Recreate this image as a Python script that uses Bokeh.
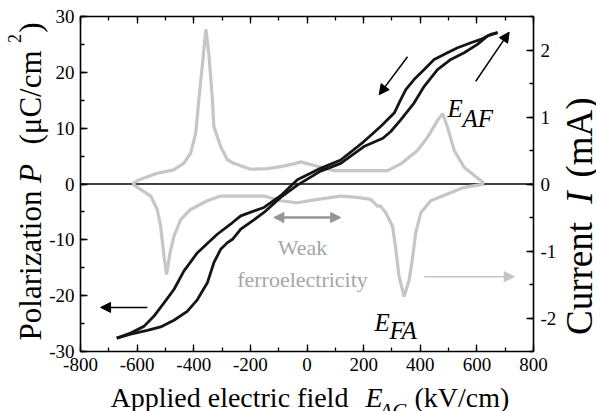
import math
from bokeh.plotting import figure
from bokeh.models import (Range1d, LinearAxis, SingleIntervalTicker, Label,
                          Arrow, NormalHead, CustomJSTickFormatter)
from bokeh.embed import file_html
from bokeh.resources import INLINE

# ---------------- data ----------------
# P-E loop, ascending field branch (E in kV/cm, P in uC/cm^2)
up_E = [-672, -623, -564, -517, -470, -423, -387, -352, -329, -305, -281, -263, -234,
        -190, -152, -93, -34, 48, 119, 201, 268, 296, 331, 378, 414, 461, 508, 555,
        602, 638, 673]
up_P = [-27.6, -26.9, -26.2, -25.6, -24.4, -22.8, -20.7, -17.7, -14.1, -11.7, -10.5,
        -9.9, -8.1, -6.5, -5.1, -2.4, -0.2, 2.3, 3.7, 6.7, 8.2, 9.4, 11.5, 14.5, 17.5,
        20.5, 22.3, 23.5, 25.0, 26.5, 27.1]
# P-E loop, descending field branch
down_E = [673, 649, 614, 579, 532, 496, 449, 414, 378, 349, 331, 308, 284, 260, 201,
          119, 48, -34, -93, -152, -234, -263, -317, -387, -435, -470, -505, -541,
          -576, -623, -672]
down_P = [27.1, 26.8, 25.9, 25.3, 24.4, 23.5, 22.3, 20.5, 18.7, 16.9, 15.1, 12.7, 11.5,
          10.3, 7.6, 4.3, 2.8, 0.75, -2.1, -4.2, -5.7, -6.9, -9.0, -12.3, -15.6, -18.9,
          -21.3, -23.7, -25.5, -26.7, -27.6]

# switching current, ascending field (I in mA)
cur_up_E = [-617, -595, -529, -471, -435, -411, -393, -382, -370, -362, -357, -346, -334,
            -329, -305, -281, -259, -199, -140, -93, -46, -22, 13, 95, 200, 284, 331,
            390, 426, 461, 479, 496, 520, 555, 590, 620, 625]
cur_up_I = [0.0, 0.06, 0.16, 0.21, 0.31, 0.46, 0.76, 1.26, 1.76, 2.11, 2.31, 1.91, 1.26,
            0.86, 0.56, 0.36, 0.31, 0.22, 0.23, 0.26, 0.30, 0.33, 0.29, 0.20, 0.20, 0.20,
            0.30, 0.50, 0.70, 0.95, 1.05, 0.85, 0.50, 0.25, 0.13, 0.03, 0.0]
# switching current, descending field
cur_down_E = [625, 614, 555, 496, 437, 402, 384, 372, 361, 343, 325, 314, 302, 278, 260,
              249, 225, 178, 119, 37, -34, -93, -152, -270, -305, -352, -411, -446,
              -470, -484, -496, -505, -517, -529, -552, -588, -617]
cur_down_I = [0.0, -0.01, -0.05, -0.15, -0.25, -0.43, -0.73, -1.13, -1.43, -1.68, -1.38,
              -0.98, -0.63, -0.43, -0.33, -0.33, -0.23, -0.20, -0.18, -0.23, -0.28,
              -0.25, -0.18, -0.18, -0.18, -0.25, -0.38, -0.53, -0.78, -1.03, -1.35,
              -1.08, -0.63, -0.38, -0.18, -0.08, 0.0]

x_limits = (-800, 800)
p_limits = (-30, 30)
i_limits = (-2.5, 2.5)

# ---------------- layout geometry (canvas pixels) ----------------
FONT = "Liberation Serif"
W, H = 596, 411
BOX_L, BOX_R, BOX_T, BOX_B = 80, 533, 16, 351   # plotting box inside the canvas

# The frame fills the whole canvas; the axis box is drawn with fixed-location axes,
# so the outer texts (axis titles) can live inside the frame without being clipped.
ex = (x_limits[1] - x_limits[0]) / (BOX_R - BOX_L)
ep = (p_limits[1] - p_limits[0]) / (BOX_B - BOX_T)
x_full = (x_limits[0] - BOX_L * ex, x_limits[1] + (W - BOX_R) * ex)
p_full = (p_limits[0] - (H - BOX_B) * ep, p_limits[1] + BOX_T * ep)
k = (i_limits[1] - i_limits[0]) / (p_limits[1] - p_limits[0])
i_full = (p_full[0] * k, p_full[1] * k)

p = figure(width=W, height=H, x_range=Range1d(*x_full), y_range=Range1d(*p_full),
           output_backend="svg", toolbar_location=None, min_border=0,
           min_border_left=0, min_border_right=0, min_border_top=0, min_border_bottom=0,
           background_fill_color="white", border_fill_color="white",
           outline_line_color=None)
p.grid.visible = False
p.extra_y_ranges = {"I": Range1d(*i_full)}

plain = CustomJSTickFormatter(code="return String(tick)")


def style_axis(ax):
    ax.axis_line_width = 1.6
    ax.axis_line_color = "black"
    ax.major_tick_in = 7
    ax.major_tick_out = 0
    ax.minor_tick_in = 4
    ax.minor_tick_out = 0
    ax.major_tick_line_width = 1.3
    ax.minor_tick_line_width = 1.3
    ax.major_label_text_font = FONT
    ax.major_label_text_font_size = "19px"
    ax.major_label_text_color = "black"
    ax.major_label_standoff = 6
    ax.axis_label = None


xax = p.xaxis[0]
xax.ticker = SingleIntervalTicker(interval=200, num_minor_ticks=2)
xax.formatter = plain
xax.fixed_location = p_limits[0]
xax.bounds = x_limits
style_axis(xax)

yax = p.yaxis[0]
yax.ticker = SingleIntervalTicker(interval=10, num_minor_ticks=2)
yax.formatter = plain
yax.fixed_location = x_limits[0]
yax.bounds = p_limits
style_axis(yax)

rax = LinearAxis(y_range_name="I", ticker=SingleIntervalTicker(interval=1, num_minor_ticks=2),
                 formatter=plain, fixed_location=x_limits[1], bounds=i_limits)
style_axis(rax)
rax.major_label_standoff = 7
p.add_layout(rax, "right")

tax = LinearAxis(ticker=SingleIntervalTicker(interval=200, num_minor_ticks=2),
                 formatter=CustomJSTickFormatter(code="return ''"),
                 fixed_location=p_limits[1], bounds=x_limits)
style_axis(tax)
tax.major_label_text_font_size = "0px"
tax.major_label_standoff = 0
p.add_layout(tax, "above")

# zero line across the box
p.segment(x0=[x_limits[0]], y0=[0], x1=[x_limits[1]], y1=[0], line_color="black",
          line_width=1.5)

# current curves (right axis)
GRAY = "#c6c6c6"
p.line(cur_up_E, cur_up_I, y_range_name="I", line_color=GRAY, line_width=3.2)
p.line(cur_down_E, cur_down_I, y_range_name="I", line_color=GRAY, line_width=3.2)

# P-E loop
BLACK = "#151515"
p.line(up_E, up_P, line_color=BLACK, line_width=2.8)
p.line(down_E, down_P, line_color=BLACK, line_width=2.8)


def arrow(x0, y0, x1, y1, color, both=False, size=10, lw=1.5):
    head = NormalHead(size=size, fill_color=color, line_color=color, line_width=1)
    kw = dict(end=head, x_start=x0, y_start=y0, x_end=x1, y_end=y1,
              line_color=color, line_width=lw)
    if both:
        kw["start"] = NormalHead(size=size, fill_color=color, line_color=color, line_width=1)
    p.add_layout(Arrow(**kw))


arrow(596, 18.4, 714, 27.2, "black")
arrow(355, 22.8, 255, 16.0, "black")
arrow(-564, -22.1, -729, -22.1, "black")
arrow(414, -16.6, 732, -16.6, "#c4c4c4")
arrow(-117, -6.0, 119, -6.0, "#959595", both=True, lw=2.5)


def lab(text, cx, cy, size, style="normal", align="left", angle=0.0, color="black",
        baseline="alphabetic"):
    p.add_layout(Label(x=cx, y=H - cy, x_units="screen", y_units="screen",
                       text=text, text_font=FONT, text_font_size=f"{size}px",
                       text_font_style=style, text_color=color, text_align=align,
                       text_baseline=baseline, angle=angle))


def vlab(text, cx, cy, size, style="normal"):
    # rotated text centred on (cx, cy)
    lab(text, cx, cy, size, style, align="center", angle=math.pi / 2, baseline="middle")


# annotations inside the plot
lab("E", 447, 108, 25, "italic")
lab("AF", 462, 118, 25, "italic")
lab("E", 374, 322, 25, "italic")
lab("FA", 389, 330, 25, "italic")
lab("Weak", 302, 247, 22, align="center", color="#a6a6a6")
lab("ferroelectricity", 302, 279, 22, align="center", color="#a6a6a6")

# x axis title
lab("Applied electric field", 110, 397, 28)
lab("E", 365, 397, 28, "italic")
lab("AC", 379, 410, 21, "italic")
lab("(kV/cm)", 414, 397, 28)

# left axis title (rotated, reads upwards)
vlab("Polarization", 30, 265, 31)
vlab("P", 30, 173, 31, "italic")
vlab("(\u03bcC/cm", 30, 97, 31)
vlab("2", 14, 38, 18)
vlab(")", 30, 27, 31)

# right axis title (rotated, reads upwards)
vlab("Current", 579, 278, 37)
vlab("I", 579, 197, 37, "italic")
vlab("(mA)", 579, 137, 37)

open("out.html", "w").write(file_html(p, INLINE))
